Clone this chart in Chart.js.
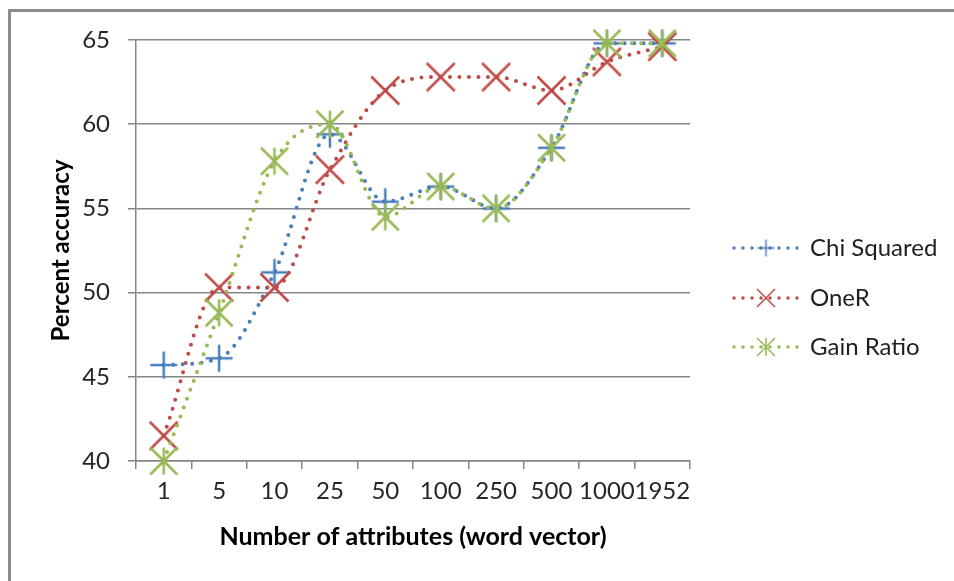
<!DOCTYPE html>
<html>
<head>
<meta charset="utf-8">
<script src="https://cdn.jsdelivr.net/npm/chart.js@4"></script>
<style>
html, body { margin: 0; padding: 0; background: #fff; overflow: hidden; }
#frame { position: absolute; left: 8px; top: 9px; width: 980px; height: 620px;
         border-top: 3px solid #8c8c8c; border-left: 3px solid #8c8c8c; }
#wrap { position: absolute; left: 0; top: 0; width: 954px; height: 581px; }
</style>
</head>
<body>
<div id="frame"></div>
<div id="wrap"><canvas id="chart"></canvas></div>
<script>
// data
const attributes = ['1', '5', '10', '25', '50', '100', '250', '500', '1000', '1952'];
const chiSquared = [45.7, 46.1, 51.2, 59.4, 55.4, 56.3, 55.0, 58.6, 64.8, 64.8];
const oneR       = [41.5, 50.3, 50.3, 57.3, 62.0, 62.8, 62.8, 62.0, 63.7, 64.6];
const gainRatio  = [40.0, 48.8, 57.8, 60.0, 54.5, 56.3, 55.0, 58.6, 64.8, 64.8];
const seriesNames = ['Chi Squared', 'OneR', 'Gain Ratio'];

const BLUE = '#4a7ebb', RED = '#be4b48', GREEN = '#98b954';
const GRID = '#868686';
const FONT = 'Lato';

// excel-like markers drawn onto small canvases
function marker(kind, color, r, lw) {
    const s = Math.ceil(2 * r + lw + 2);
    const c = document.createElement('canvas');
    c.width = s; c.height = s;
    const g = c.getContext('2d');
    const m = s / 2;
    g.strokeStyle = color;
    g.lineWidth = lw;
    g.beginPath();
    if (kind === 'plus') {
        g.moveTo(m - r, m); g.lineTo(m + r, m);
        g.moveTo(m, m - r); g.lineTo(m, m + r);
    } else {
        g.moveTo(m - r, m - r); g.lineTo(m + r, m + r);
        g.moveTo(m + r, m - r); g.lineTo(m - r, m + r);
        if (kind === 'star') { g.moveTo(m, m - r); g.lineTo(m, m + r); }
    }
    g.stroke();
    return c;
}

const bigMarks = [marker('plus', BLUE, 13.5, 2.5), marker('x', RED, 14, 2.5), marker('star', GREEN, 13.5, 2.5)];
const smallMarks = [marker('plus', BLUE, 8.5, 1.5), marker('x', RED, 9, 1.5), marker('star', GREEN, 9, 1.5)];
const colors = [BLUE, RED, GREEN];

// legend on the right: dotted sample line + marker + name
const legendRows = [248, 298, 347];
const sideLegend = {
    id: 'sideLegend',
    afterDraw(chart) {
        const ctx = chart.ctx;
        chart.data.datasets.forEach((ds, i) => {
            const y = legendRows[i];
            ctx.save();
            ctx.strokeStyle = colors[i];
            ctx.lineWidth = 3.5;
            ctx.lineCap = 'round';
            ctx.setLineDash([0, 9]);
            ctx.beginPath();
            ctx.moveTo(734, y);
            ctx.lineTo(800, y);
            ctx.stroke();
            const mk = smallMarks[i];
            ctx.drawImage(mk, 766 - mk.width / 2, y - mk.height / 2);
            ctx.fillStyle = '#1f1f1f';
            ctx.font = '24px ' + FONT;
            ctx.textBaseline = 'middle';
            ctx.fillText(ds.label, 810, y);
            ctx.restore();
        });
    }
};

function series(i, values, order) {
    return {
        label: seriesNames[i],
        data: values,
        borderColor: colors[i],
        backgroundColor: colors[i],
        borderWidth: 4,
        borderDash: [0, 9.5],
        borderCapStyle: 'round',
        cubicInterpolationMode: 'monotone',
        fill: false,
        clip: false,
        pointStyle: bigMarks[i],
        pointRadius: 5,
        order: order
    };
}

new Chart(document.getElementById('chart'), {
    type: 'line',
    data: {
        labels: attributes,
        datasets: [
            series(0, chiSquared, 2),
            series(1, oneR, 1),
            series(2, gainRatio, 0)
        ]
    },
    options: {
        responsive: true,
        maintainAspectRatio: false,
        animation: false,
        layout: { padding: { left: 0, top: 40, right: 264, bottom: 0 } },
        plugins: {
            legend: { display: false },
            tooltip: { enabled: false }
        },
        scales: {
            x: {
                offset: true,
                grid: { offset: true, drawOnChartArea: false, drawTicks: true, tickLength: 8, color: GRID, lineWidth: 1.5 },
                border: { color: GRID, width: 1.5 },
                ticks: { autoSkip: false, maxRotation: 0, color: '#262626', font: { family: FONT, size: 24 }, padding: 8 },
                title: {
                    display: true,
                    text: 'Number of attributes (word vector)',
                    color: '#000',
                    font: { family: FONT, size: 25, weight: 'bold' },
                    padding: { top: 0, bottom: 29 }
                },
                afterFit(scale) { scale.height = 120; }
            },
            y: {
                min: 40,
                max: 65,
                grid: { color: GRID, lineWidth: 1.5, tickLength: 8 },
                border: { color: GRID, width: 1.5 },
                ticks: { stepSize: 5, color: '#262626', font: { family: FONT, size: 24 }, padding: 18 },
                title: {
                    display: true,
                    text: 'Percent accuracy',
                    color: '#000',
                    font: { family: FONT, size: 24, weight: 'bold' },
                    padding: { top: 47, bottom: 0 }
                },
                afterFit(scale) { scale.width = 136; }
            }
        }
    },
    plugins: [sideLegend]
});
</script>
</body>
</html>
